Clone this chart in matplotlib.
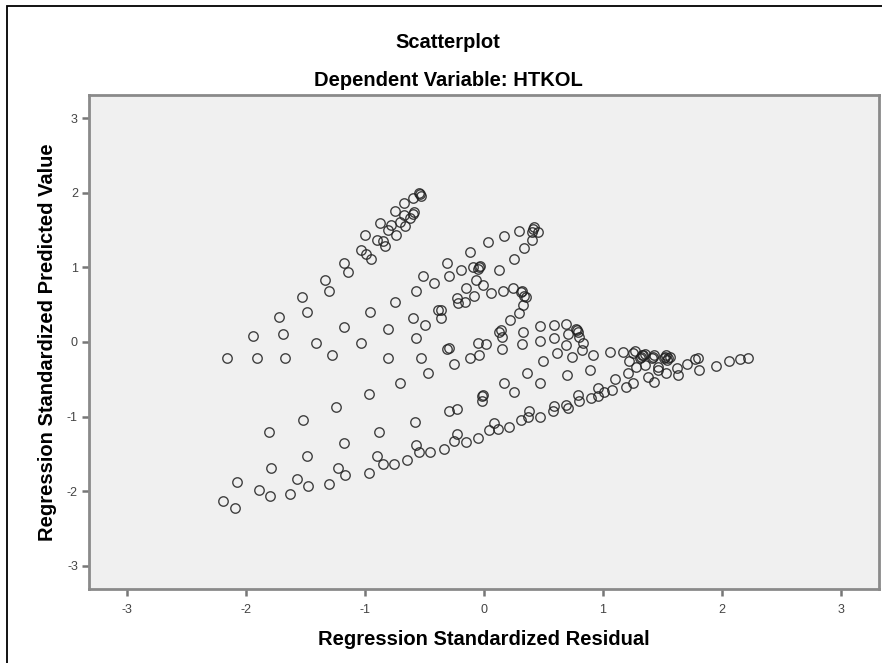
import matplotlib
matplotlib.use("Agg")
import matplotlib.pyplot as plt
from matplotlib.patches import Rectangle

plt.rcParams['font.family'] = ['Liberation Sans', 'DejaVu Sans']
plt.rcParams['axes.unicode_minus'] = False

# regression standardized residual / predicted value pairs
resid = [
    -0.54, -0.55, -0.53, -0.60, -0.67, -0.75, -0.60, -0.59, -0.67, -0.62, -0.71, -0.78, -0.87,
    -0.81, -0.74, -0.66, -1.00, -0.90, -0.85, -0.83, -1.03, -0.99, -0.95, -1.18, -1.14, -1.34,
    -1.30, -1.53, -1.49, -1.72, -1.69, -1.94, -2.16, -1.91, -1.67,
    -1.41, -1.28, -1.18, -1.03, -0.96, -0.81, -0.75, -0.81, -0.57, -0.51, -0.42, -0.31, -0.29,
    -0.60, -0.50, -0.57, -0.53, -0.47, -0.39, -0.36, -0.36, -0.31, -0.71,
    0.41, 0.42, 0.40, 0.29, 0.17, 0.03, -0.12, -0.19, -0.09, -0.04, -0.03, -0.05, 0.13, 0.25,
    0.34, 0.40, 0.45, -0.15, -0.07, -0.01, -0.08, 0.06, 0.16, 0.24, 0.31, 0.32, 0.35, 0.34,
    0.33, 0.29, 0.22, 0.13, 0.14, 0.15, -0.23, -0.22, -0.16, -0.29, -0.25, -0.12, -0.04, -0.05,
    0.02, 0.15, 0.33, 0.32, 0.36, 0.47, 0.47, 0.50, 0.59, 0.59, 0.61, 0.69, 0.71, 0.69, 0.74,
    0.78, 0.77, 0.79, 0.80, 0.83, 0.82, 0.92, 0.89, 0.70, 1.06, 1.17, 1.25, 1.32, 1.33, 1.31,
    1.22, 1.42, 1.52, 1.53, 1.51, 1.46, 1.21,
    -0.97, -1.24, -1.52, -1.81, -0.88, -0.58, -1.18, -1.49, -1.79, -2.08, -2.19, -2.09, -1.89,
    -1.80, -1.63, -1.57, -1.48, -1.30, -1.23, -1.17, -0.97, -0.90, -0.85, -0.76, -0.65, -0.57,
    -0.55, -0.45, -0.34,
    0.17, 0.25, 0.47, -0.02, -0.01, -0.02, -0.29, -0.23, -0.23, -0.25, -0.15, -0.05, 0.04, 0.08,
    0.12, 0.21, 0.31, 0.38, 0.37, 0.47, 0.58, 0.59, 0.69, 0.71, 0.79, 0.80, 0.90, 0.96, 0.96,
    1.01, 1.08, 1.10, 1.19, 1.25, 1.38, 1.43, 1.46, 1.53,
    1.27, 1.34, 1.35, 1.28, 1.35, 1.43, 1.55, 1.56, 1.54, 1.62, 1.63, 1.71, 1.77, 1.80, 1.81,
    1.95, 2.06, 2.15, 2.22, 1.41,
]
pred = [
    1.98, 2.00, 1.96, 1.93, 1.86, 1.75, 1.72, 1.74, 1.70, 1.66, 1.61, 1.57, 1.60,
    1.50, 1.43, 1.55, 1.43, 1.37, 1.36, 1.29, 1.23, 1.18, 1.11, 1.06, 0.94, 0.83,
    0.68, 0.60, 0.40, 0.34, 0.11, 0.08, -0.21, -0.21, -0.21,
    -0.01, -0.17, 0.20, -0.01, 0.40, 0.17, 0.54, -0.21, 0.68, 0.88, 0.79, 1.06, 0.88,
    0.32, 0.23, 0.05, -0.21, -0.41, 0.43, 0.43, 0.32, -0.09, -0.55,
    1.51, 1.54, 1.48, 1.49, 1.42, 1.34, 1.20, 0.97, 1.00, 1.00, 1.02, 0.98, 0.97, 1.11,
    1.26, 1.37, 1.48, 0.72, 0.83, 0.76, 0.61, 0.65, 0.68, 0.72, 0.67, 0.69, 0.60, 0.62,
    0.50, 0.39, 0.29, 0.14, 0.16, 0.07, 0.59, 0.52, 0.54, -0.08, -0.29, -0.21, -0.17, -0.01,
    -0.03, -0.10, 0.14, -0.03, -0.41, 0.21, 0.02, -0.26, 0.23, 0.05, -0.15, 0.24, 0.11, -0.04, -0.20,
    0.16, 0.18, 0.14, 0.07, -0.02, -0.11, -0.17, -0.37, -0.44, -0.14, -0.13, -0.15, -0.20, -0.18, -0.22,
    -0.26, -0.20, -0.20, -0.18, -0.22, -0.33, -0.41,
    -0.70, -0.87, -1.04, -1.21, -1.21, -1.07, -1.36, -1.53, -1.69, -1.87, -2.13, -2.22, -1.98,
    -2.07, -2.04, -1.84, -1.93, -1.90, -1.69, -1.78, -1.75, -1.53, -1.64, -1.64, -1.58, -1.38,
    -1.47, -1.47, -1.43,
    -0.55, -0.67, -0.55, -0.73, -0.71, -0.79, -0.92, -0.90, -1.23, -1.32, -1.34, -1.29, -1.18, -1.09,
    -1.16, -1.14, -1.04, -0.93, -1.01, -1.01, -0.92, -0.86, -0.85, -0.89, -0.71, -0.79, -0.75, -0.73, -0.61,
    -0.67, -0.64, -0.49, -0.60, -0.55, -0.47, -0.53, -0.38, -0.42,
    -0.12, -0.17, -0.16, -0.33, -0.31, -0.17, -0.22, -0.20, -0.24, -0.35, -0.44, -0.29, -0.23, -0.21, -0.38,
    -0.32, -0.26, -0.23, -0.21, -0.22,
]
ticks = [-3, -2, -1, 0, 1, 2, 3]

fig = plt.figure(figsize=(8.82, 6.63), dpi=100)
ax = fig.add_axes([89/882, 1 - 589/663, 790/882, 494/663])
ax.set_facecolor('#f0f0f0')

ax.plot(resid, pred, linestyle='none', marker='o', markersize=6.8,
        markerfacecolor='none', markeredgecolor='#222222', markeredgewidth=1.0, alpha=0.85)

ax.set_xlim(-3.32, 3.32)
ax.set_ylim(-3.31, 3.31)
ax.set_xticks(ticks)
ax.set_yticks(ticks)
ax.tick_params(length=5, width=1.8, color='#777777', labelsize=9, labelcolor='#444444', pad=3)
ax.tick_params(axis='x', pad=6)
for s in ax.spines.values():
    s.set_color('#8a8a8a')
    s.set_linewidth(2)

ax.set_xlabel("Regression Standardized Residual", fontsize=14.5, fontweight='bold', labelpad=10)
ax.set_ylabel("Regression Standardized Predicted Value", fontsize=14.5, fontweight='bold', labelpad=7)

fig.text(0.508, 1 - 43/663, "Scatterplot", ha='center', va='center', fontsize=14.5, fontweight='bold')
fig.text(0.508, 1 - 80/663, "Dependent Variable: HTKOL", ha='center', va='center', fontsize=14.5, fontweight='bold')

fig.patches.append(Rectangle((7/882, -0.1), 1.0, 1.1 - 6/663, transform=fig.transFigure,
                             fill=False, edgecolor='black', linewidth=1.3))

fig.savefig("out.png", dpi=100)
